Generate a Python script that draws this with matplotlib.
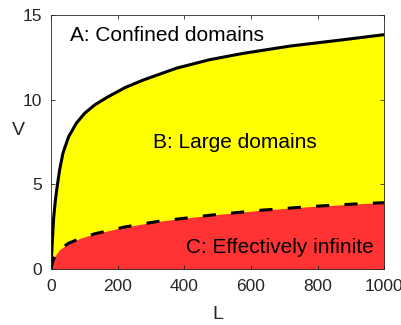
import matplotlib
matplotlib.use('Agg')
import matplotlib.pyplot as plt

# Upper boundary (solid): between confined and large domains
upper_L = [0, 3, 8, 13, 18, 26, 36, 53, 76, 101, 131, 171, 222, 277, 377, 477, 577, 718, 868, 1000]
upper_V = [0, 1.2, 3.0, 4.0, 4.78, 5.85, 6.84, 7.81, 8.6, 9.19, 9.68, 10.16, 10.7, 11.15,
           11.85, 12.35, 12.72, 13.15, 13.5, 13.82]

# Lower boundary (dashed): between large domains and effectively infinite
lower_L = [0, 2, 6, 12, 25, 52, 90, 132, 222, 322, 477, 627, 778, 928, 1000]
lower_V = [0, 0.2, 0.5, 0.78, 1.15, 1.53, 1.85, 2.1, 2.5, 2.83, 3.19, 3.48, 3.7, 3.87, 3.93]

x_ticks = [0, 200, 400, 600, 800, 1000]
y_ticks = [0, 5, 10, 15]

plt.rcParams['font.family'] = ['Liberation Sans', 'DejaVu Sans']

fig = plt.figure(figsize=(4.01, 3.25), dpi=100)
ax = fig.add_axes([0.127, 0.171, 0.831, 0.784])

# Regions
ax.fill_between(upper_L, 0, upper_V, color='#ffff00', lw=0)
ax.fill_between(lower_L, 0, lower_V, color='#ff3333', lw=0)

# Boundaries
ax.plot(upper_L, upper_V, color='black', lw=2.2, solid_joinstyle='round')
ax.plot(lower_L, lower_V, color='black', lw=2.2, linestyle=(0, (4.3, 5.0)))

# Region labels
ax.text(347, 13.78, 'A: Confined domains', fontsize=15, ha='center', va='center')
ax.text(551, 7.47, 'B: Large domains', fontsize=15, ha='center', va='center')
ax.text(688, 1.32, 'C: Effectively infinite', fontsize=15, ha='center', va='center')

ax.set_xlim(0, 1000)
ax.set_ylim(0, 15)
ax.set_xticks(x_ticks)
ax.set_yticks(y_ticks)
ax.tick_params(direction='in', top=True, right=True, length=3, width=0.6,
               labelsize=12.5, color='#262626', labelcolor='#262626')
ax.tick_params(axis='x', pad=7)
ax.tick_params(axis='y', pad=6.5)
for s in ax.spines.values():
    s.set_linewidth(0.6)
    s.set_color('#262626')

ax.set_xlabel('L', fontsize=14, color='#262626')
ax.set_ylabel('V', fontsize=14, rotation=0, color='#262626')
ax.xaxis.set_label_coords(0.5, -0.175)
ax.yaxis.set_label_coords(-0.097, 0.546)
ax.xaxis.label.set_va('center')
ax.yaxis.label.set_va('center')
ax.yaxis.label.set_ha('center')

fig.savefig('out.png', dpi=100)
